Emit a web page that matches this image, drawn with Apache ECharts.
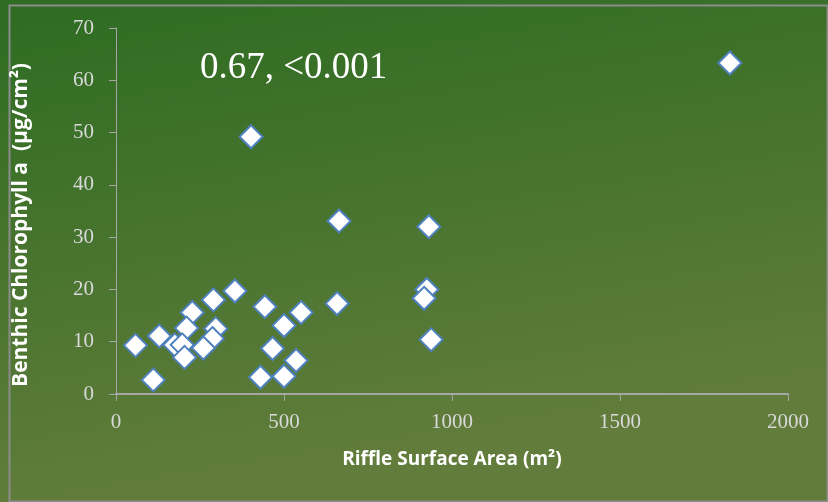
<!DOCTYPE html>
<html>
<head>
<meta charset="utf-8">
<script src="https://cdn.jsdelivr.net/npm/echarts@6/dist/echarts.min.js"></script>
<style>
html,body{margin:0;padding:0;}
#chart{width:828px;height:502px;}
</style>
</head>
<body>
<div id="chart"></div>
<script>
// Data
var riffleArea = [1827, 402, 664, 931, 354, 290, 443, 227, 658, 551, 925, 917, 938, 500, 297, 210, 129, 58, 175, 197, 204, 287, 260, 466, 536, 430, 500, 111];
var chlorophyll = [63.3, 49.2, 33.1, 32.0, 19.7, 18.0, 16.7, 15.6, 17.3, 15.6, 20.0, 18.3, 10.4, 13.1, 12.5, 12.6, 11.1, 9.3, 9.4, 9.4, 7.0, 10.6, 8.8, 8.7, 6.4, 3.2, 3.4, 2.7];
var xTicks = [0, 500, 1000, 1500, 2000];
var yTicks = [0, 10, 20, 30, 40, 50, 60, 70];
var annotation = '0.67, <0.001';
var xTitle = 'Riffle Surface Area (m\u00b2)';
var yTitle = 'Benthic Chlorophyll a  (\u00b5g/cm\u00b2)';

var points = riffleArea.map(function (x, i) { return [x, chlorophyll[i]]; });

var chart = echarts.init(document.getElementById('chart'));
var axisColor = '#a6a6a6';
var labelColor = '#d9d9d9';
chart.setOption({
  backgroundColor: {
    type: 'linear', x: 0, y: 0, x2: 0.1, y2: 1,
    colorStops: [{offset: 0, color: '#2d6c22'}, {offset: 1, color: '#617c3b'}]
  },
  animation: false,
  grid: {left: 116, right: 40, top: 28, bottom: 108},
  xAxis: {
    type: 'value', min: xTicks[0], max: xTicks[xTicks.length - 1], interval: 500,
    name: xTitle, nameLocation: 'middle', nameGap: 56,
    nameTextStyle: {color: '#ffffff', fontFamily: 'Open Sans', fontWeight: 'bold', fontSize: 19},
    axisLine: {show: true, lineStyle: {color: axisColor, width: 2}},
    axisTick: {show: true, inside: false, length: 7, lineStyle: {color: axisColor, width: 1}},
    axisLabel: {color: labelColor, fontFamily: 'Liberation Serif', fontSize: 21, margin: 18,
      formatter: function (v) { return String(v); }},
    splitLine: {show: false}
  },
  yAxis: {
    type: 'value', min: yTicks[0], max: yTicks[yTicks.length - 1], interval: 10,
    name: yTitle, nameLocation: 'middle', nameGap: 84, nameRotate: 90,
    nameTextStyle: {color: '#ffffff', fontFamily: 'Open Sans', fontWeight: 'bold', fontSize: 21,
      padding: [0, 28, 0, 0]},
    axisLine: {show: true, lineStyle: {color: axisColor, width: 1}},
    axisTick: {show: true, inside: false, length: 7, lineStyle: {color: axisColor, width: 1}},
    axisLabel: {color: labelColor, fontFamily: 'Liberation Serif', fontSize: 21, margin: 22},
    splitLine: {show: false}
  },
  graphic: [
    {type: 'rect', left: 7, top: 3, shape: {width: 818, height: 496}, style: {fill: 'none', stroke: '#8c8c8c', lineWidth: 2}, silent: true},
    {type: 'text', left: 200, top: 50, style: {text: annotation, fill: '#ffffff', font: '37px "Liberation Serif"'}}
  ],
  series: [{
    type: 'scatter',
    data: points,
    symbol: 'diamond',
    symbolSize: 23,
    itemStyle: {color: '#ffffff', borderColor: '#4f81bd', borderWidth: 2, opacity: 1}
  }]
});
</script>
</body>
</html>
